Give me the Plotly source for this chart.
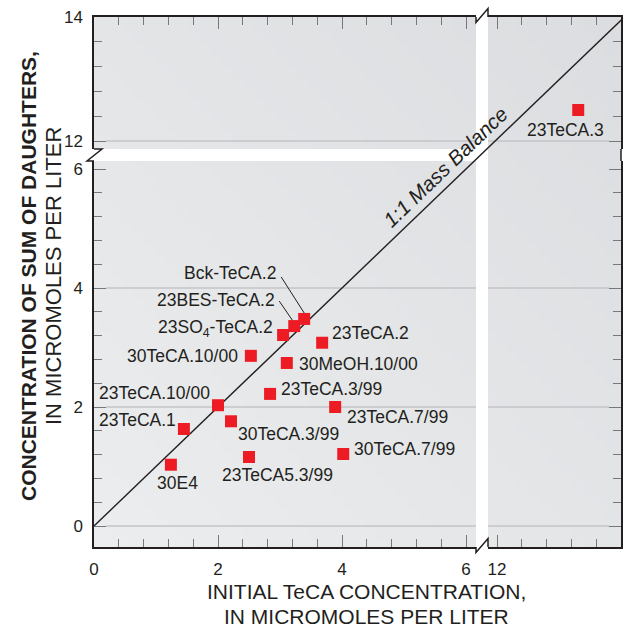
import base64
import struct
import zlib

import plotly.graph_objects as go

# ---------------- data ----------------
names = ["Bck-TeCA.2", "23BES-TeCA.2", "23SO<sub>4</sub>-TeCA.2", "23TeCA.2",
         "30TeCA.10/00", "30MeOH.10/00", "23TeCA.3/99", "23TeCA.10/00",
         "23TeCA.7/99", "23TeCA.1", "30TeCA.3/99", "30TeCA.7/99",
         "23TeCA5.3/99", "30E4"]
initial_teca = [3.39, 3.23, 3.05, 3.68, 2.53, 3.11, 2.84, 2.00, 3.89, 1.45, 2.21, 4.02, 2.50, 1.24]
sum_daughters = [3.48, 3.36, 3.21, 3.08, 2.86, 2.74, 2.22, 2.03, 2.00, 1.63, 1.76, 1.21, 1.16, 1.03]

hi_names = ["23TeCA.3"]
hi_initial = [13.31]
hi_daughters = [12.50]

mass_balance = [0, 14]          # 1:1 line end values

x_ticks_low = [0, 2, 4, 6]
x_ticks_high = [12, 14]
y_ticks_low = [0, 2, 4, 6]
y_ticks_high = [12, 14]
y_grid_low = [0, 2, 4]
y_grid_high = [12]

# ---------------- label placement (anchor, dx px, dy px) ----------------
LABEL_POS = {
    "Bck-TeCA.2": ("right", -26, 46),
    "23BES-TeCA.2": ("right", -17, 26),
    "23SO<sub>4</sub>-TeCA.2": ("right", -8, 7),
    "23TeCA.2": ("left", 8, 10),
    "30TeCA.10/00": ("right", -11, 0),
    "30MeOH.10/00": ("left", 10, -1),
    "23TeCA.3/99": ("left", 9, 5),
    "23TeCA.10/00": ("right", -6, 12),
    "23TeCA.7/99": ("left", 10, -10),
    "23TeCA.1": ("right", -6, 9),
    "30TeCA.3/99": ("left", 5, -13),
    "30TeCA.7/99": ("left", 9, 5),
    "23TeCA5.3/99": ("center", 28, -18),
    "30E4": ("center", 7, -18),
    "23TeCA.3": ("center", -13, -20),
}
LEADERS = {  # pixel offsets (x0, y0, x1, y1) from point, y up
    "Bck-TeCA.2": (-23, 42, 0, 6),
    "23BES-TeCA.2": (-15, 25, -2, 6),
}

# ---------------- geometry (pixels) ----------------
W, H = 630, 625
L, R, T, B = 94, 621, 17, 547
PW, PH = R - L, B - T
GAP_X0, GAP_X1 = 476, 488
GAP_Y0, GAP_Y1 = 149, 161


def px(xp):
    return (xp - L) / PW


def py(yp):
    return (B - yp) / PH


xdomL = [0, px(GAP_X0)]
xdomR = [px(GAP_X1), 1]
ydomLo = [0, py(GAP_Y1)]
ydomHi = [py(GAP_Y0), 1]

XS = 62.0     # px per unit x
YS_LO = 59.5  # px per unit y (lower)
YS_HI = 62.0  # px per unit y (upper)
Y0_PX = 526   # pixel of y = 0

x_rng_L = [0, (GAP_X0 - L) / XS]
x_rng_R = [14 - (R - GAP_X1) / XS, 14]
y_rng_Lo = [-(B - Y0_PX) / YS_LO, (Y0_PX - GAP_Y1) / YS_LO]
y_rng_Hi = [14 - (GAP_Y0 - T) / YS_HI, 14]

FRAME = "#231f20"
TICKC = "#77787b"
GRIDC = "#c4c5c8"
RED = "#ed1c24"
LBL_FONT = "Liberation Sans Narrow, Arial Narrow, Liberation Sans, Arial, sans-serif"
TICK_FONT = "Liberation Sans, Arial, Helvetica, sans-serif"


def gradient_png(w, h, c_bl, c_tr):
    raw = bytearray()
    for j in range(h):
        raw.append(0)
        for i in range(w):
            t = (i / (w - 1) + (1 - j / (h - 1))) / 2.0
            for k in range(3):
                raw.append(int(round(c_bl[k] + (c_tr[k] - c_bl[k]) * t)))

    def chunk(tag, data):
        c = struct.pack(">I", len(data)) + tag + data
        return c + struct.pack(">I", zlib.crc32(tag + data) & 0xFFFFFFFF)

    png = (b"\x89PNG\r\n\x1a\n"
           + chunk(b"IHDR", struct.pack(">IIBBBBB", w, h, 8, 2, 0, 0, 0))
           + chunk(b"IDAT", zlib.compress(bytes(raw)))
           + chunk(b"IEND", b""))
    return "data:image/png;base64," + base64.b64encode(png).decode()


fig = go.Figure()

# overlay (full area) for the continuous 1:1 line
fig.add_trace(go.Scatter(x=mass_balance, y=mass_balance, mode="lines",
                         line=dict(color=FRAME, width=1.4), xaxis="x", yaxis="y",
                         showlegend=False, hoverinfo="skip"))

# lower-left data
fig.add_trace(go.Scatter(x=initial_teca, y=sum_daughters, mode="markers",
                         marker=dict(symbol="square", size=12, color=RED, line=dict(width=0)),
                         xaxis="x2", yaxis="y2", showlegend=False, cliponaxis=False))
# empty panels
fig.add_trace(go.Scatter(x=[None], y=[None], xaxis="x3", yaxis="y3", showlegend=False))
fig.add_trace(go.Scatter(x=[None], y=[None], xaxis="x4", yaxis="y4", showlegend=False))
# upper-right data
fig.add_trace(go.Scatter(x=hi_initial, y=hi_daughters, mode="markers",
                         marker=dict(symbol="square", size=12, color=RED, line=dict(width=0)),
                         xaxis="x5", yaxis="y5", showlegend=False, cliponaxis=False))


def axis(**kw):
    base = dict(showgrid=False, zeroline=False, showline=True, linecolor=FRAME, linewidth=1.5,
                ticks="inside", ticklen=12, tickwidth=1.3, tickcolor=TICKC,
                tickfont=dict(family=TICK_FONT, size=17, color=FRAME),
                minor=dict(ticks="inside", ticklen=8, tickwidth=1.3, tickcolor=TICKC,
                           tickmode="linear", tick0=0, dtick=0.4, showgrid=False),
                fixedrange=True, tickmode="array")
    base.update(kw)
    return base


layout = dict(
    width=W, height=H,
    margin=dict(l=L, r=W - R, t=T, b=H - B, pad=0),
    paper_bgcolor="white", plot_bgcolor="rgba(0,0,0,0)",
    showlegend=False,
    xaxis=dict(domain=[0, 1], range=[0, PW / XS], anchor="y", visible=False, fixedrange=True),
    yaxis=dict(domain=[0, 1], range=[y_rng_Lo[0], y_rng_Lo[0] + PH / YS_LO], anchor="x",
               visible=False, fixedrange=True),
    xaxis2=axis(domain=xdomL, range=x_rng_L, anchor="y2", side="bottom", tickvals=x_ticks_low,
                ticklabelstandoff=6),
    yaxis2=axis(domain=ydomLo, range=y_rng_Lo, anchor="x2", side="left", tickvals=y_ticks_low,
                ticklabelstandoff=6),
    xaxis3=axis(domain=xdomR, range=x_rng_R, anchor="y3", side="bottom", tickvals=x_ticks_high,
                ticklabelstandoff=6),
    yaxis3=axis(domain=ydomLo, range=y_rng_Lo, anchor="x3", side="right", tickvals=y_ticks_low,
                showticklabels=False),
    xaxis4=axis(domain=xdomL, range=x_rng_L, anchor="y4", side="top", tickvals=x_ticks_low,
                showticklabels=False),
    yaxis4=axis(domain=ydomHi, range=y_rng_Hi, anchor="x4", side="left", tickvals=y_ticks_high,
                ticklabelstandoff=6),
    xaxis5=axis(domain=xdomR, range=x_rng_R, anchor="y5", side="top", tickvals=x_ticks_high,
                showticklabels=False),
    yaxis5=axis(domain=ydomHi, range=y_rng_Hi, anchor="x5", side="right", tickvals=y_ticks_high,
                showticklabels=False),
    images=[dict(source=gradient_png(48, 48, (236, 237, 238), (220, 221, 224)),
                 xref="paper", yref="paper", x=0, y=1, sizex=1, sizey=1,
                 xanchor="left", yanchor="top", sizing="stretch", layer="below")],
)
fig.update_layout(**layout)

shapes = []
# white break bands
shapes.append(dict(type="rect", xref="paper", yref="paper", x0=xdomL[1], x1=xdomR[0], y0=0, y1=1,
                   fillcolor="white", line=dict(width=0), layer="below"))
shapes.append(dict(type="rect", xref="paper", yref="paper", x0=0, x1=xdomL[1] + 0.0001,
                   y0=ydomLo[1], y1=ydomHi[0], fillcolor="white", line=dict(width=0), layer="below"))
# gridlines
inset = 12 / PW
for v in y_grid_low:
    for (a, b) in ((inset, xdomL[1]), (xdomR[0], 1 - inset)):
        shapes.append(dict(type="line", xref="paper", yref="y2", x0=a, x1=b, y0=v, y1=v,
                           line=dict(color=GRIDC, width=1.5), layer="below"))
for v in y_grid_high:
    for (a, b) in ((inset, xdomL[1]), (xdomR[0], 1 - inset)):
        shapes.append(dict(type="line", xref="paper", yref="y4", x0=a, x1=b, y0=v, y1=v,
                           line=dict(color=GRIDC, width=1.5), layer="below"))


def path(points):
    return "M" + " L".join(f"{px(a):.5f},{py(b):.5f}" for a, b in points)


brk = dict(color=FRAME, width=1.5)
# top & bottom break marks
shapes.append(dict(type="path", xref="paper", yref="paper", layer="above", line=brk,
                   path=path([(GAP_X0, T), (GAP_X0, T + 5.5), (GAP_X1, T - 8.5), (GAP_X1, T)])))
shapes.append(dict(type="path", xref="paper", yref="paper", layer="above", line=brk,
                   path=path([(GAP_X0, B), (GAP_X0, B + 5.5), (GAP_X1, B - 8.5), (GAP_X1, B)])))
# left break mark
shapes.append(dict(type="path", xref="paper", yref="paper", layer="above", line=brk,
                   path=path([(L, GAP_Y0), (L + 8, GAP_Y0), (L - 7, GAP_Y1), (L, GAP_Y1)])))
# right border across the gap
shapes.append(dict(type="line", xref="paper", yref="paper", layer="above", line=brk,
                   x0=1, x1=1, y0=ydomLo[1], y1=ydomHi[0]))

# leader lines
for n, xv, yv in zip(names, initial_teca, sum_daughters):
    if n in LEADERS:
        a, b, c, d = LEADERS[n]
        shapes.append(dict(type="line", xref="x2", yref="y2", xsizemode="pixel", ysizemode="pixel",
                           xanchor=xv, yanchor=yv, x0=a, y0=b, x1=c, y1=d,
                           line=dict(color=FRAME, width=1), layer="above"))
fig.update_layout(shapes=shapes)

ann = []
lf = dict(family=LBL_FONT, size=17.5, color=FRAME)
for n, xv, yv in zip(names, initial_teca, sum_daughters):
    anc, dx, dy = LABEL_POS[n]
    ann.append(dict(x=xv, y=yv, xref="x2", yref="y2", text=n, showarrow=False,
                    xanchor=anc, yanchor="middle", xshift=dx, yshift=dy, font=lf))
for n, xv, yv in zip(hi_names, hi_initial, hi_daughters):
    anc, dx, dy = LABEL_POS[n]
    ann.append(dict(x=xv, y=yv, xref="x5", yref="y5", text=n, showarrow=False,
                    xanchor=anc, yanchor="middle", xshift=dx, yshift=dy, font=lf))

# 1:1 label along the line
ann.append(dict(x=5.85, y=5.85, xref="x", yref="y", text="1:1 Mass Balance", showarrow=False,
                textangle=-43.8, xanchor="center", yanchor="middle", xshift=-11, yshift=11,
                font=dict(family=TICK_FONT, size=20.5, color=FRAME, style="italic")))

# axis titles
ann.append(dict(x=px(28), y=py(276), xref="paper", yref="paper", showarrow=False,
                text="<b>CONCENTRATION OF SUM OF DAUGHTERS,</b>", textangle=-90,
                xanchor="center", yanchor="middle", font=dict(family=TICK_FONT, size=21, color=FRAME)))
ann.append(dict(x=px(53), y=py(276), xref="paper", yref="paper", showarrow=False,
                text="IN MICROMOLES PER LITER", textangle=-90,
                xanchor="center", yanchor="middle", font=dict(family=TICK_FONT, size=22, color=FRAME)))
ann.append(dict(x=px(366), y=py(604), xref="paper", yref="paper", showarrow=False,
                text="INITIAL TeCA CONCENTRATION,", xanchor="center", yanchor="bottom",
                borderpad=0, font=dict(family=TICK_FONT, size=21, color=FRAME)))
ann.append(dict(x=px(366), y=py(604), xref="paper", yref="paper", showarrow=False,
                text="IN MICROMOLES PER LITER", xanchor="center", yanchor="top",
                borderpad=0, font=dict(family=TICK_FONT, size=21, color=FRAME)))
fig.update_layout(annotations=ann)

fig.write_html("out.html")
